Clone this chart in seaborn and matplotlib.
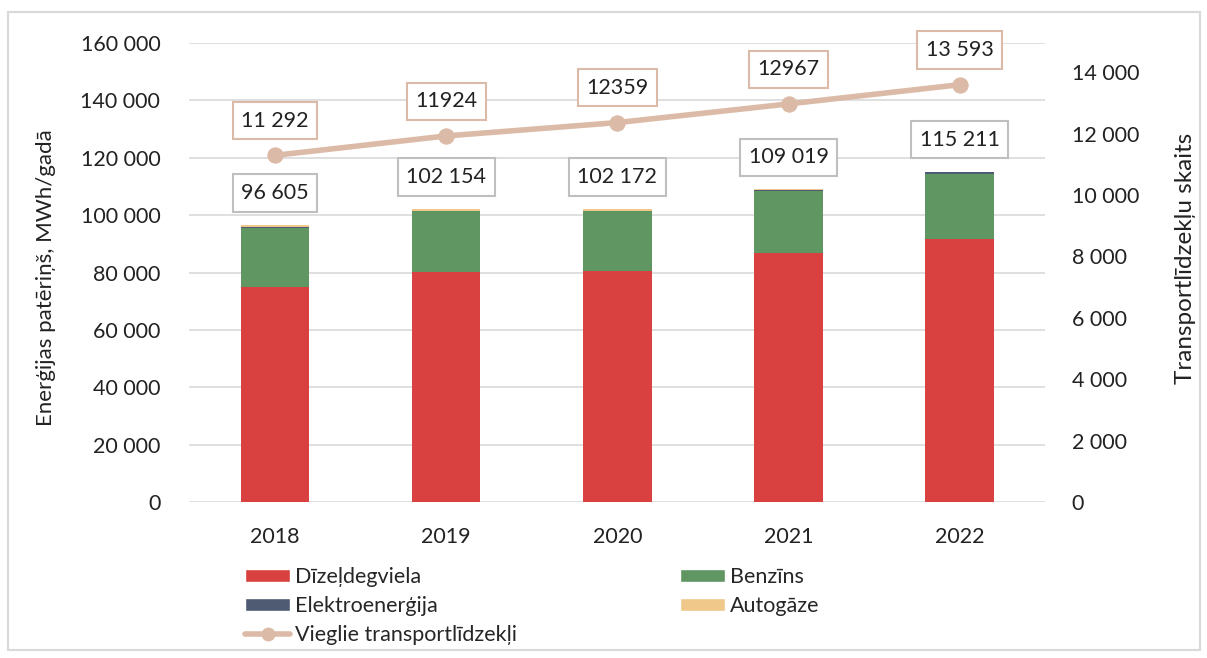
import numpy as np
import pandas as pd
import matplotlib
matplotlib.use("Agg")
import matplotlib.pyplot as plt
import seaborn as sns
from matplotlib.patches import Rectangle, Patch
from matplotlib.lines import Line2D
from matplotlib.ticker import FuncFormatter

# ---- data ----
years = ["2018", "2019", "2020", "2021", "2022"]
dizelis = [75000, 80200, 80500, 86800, 91700]
benzins = [20700, 21300, 21000, 21700, 22800]
elektro = [30, 50, 80, 350, 500]
autogaze = [875, 604, 592, 169, 211]
total_labels = ["96 605", "102 154", "102 172", "109 019", "115 211"]
vehicles = [11292, 11924, 12359, 12967, 13593]
vehicle_labels = ["11 292", "11924", "12359", "12967", "13 593"]

series_names = ["Dīzeļdegviela", "Benzīns", "Elektroenerģija", "Autogāze"]
colors = ["#d94141", "#5f9661", "#4f5b73", "#f0c98a"]
line_color = "#dbbba7"

sns.set_theme(style="white")
plt.rcParams["font.family"] = ["Lato", "DejaVu Sans"]
FS = 15.5

fig = plt.figure(figsize=(12.07, 6.58), dpi=100)
ax = fig.add_axes([0.157, 0.237, 0.709, 0.6976])

df = pd.DataFrame({"year": years, "d": dizelis, "b": benzins, "e": elektro, "a": autogaze})
layers = [df["d"], df["b"], df["e"], df["a"]]
cum = np.cumsum(np.vstack(layers), axis=0)

# draw from top layer down (overlay stacking)
for i in range(3, -1, -1):
    sns.barplot(x=df["year"], y=cum[i], color=colors[i], width=0.4, ax=ax,
                saturation=1, edgecolor="none", linewidth=0, zorder=3)

ax.set_ylim(0, 160000)
ax.set_yticks(np.arange(0, 160001, 20000))
fmt = FuncFormatter(lambda v, p: f"{int(v):,}".replace(",", " "))
ax.yaxis.set_major_formatter(fmt)
ax.grid(axis="y", color="#d9d9d9", linewidth=1.2, zorder=0)
ax.set_axisbelow(True)
for s in ax.spines.values():
    s.set_visible(False)
ax.tick_params(axis="y", length=0, pad=21, labelsize=FS, colors="#222222")
ax.tick_params(axis="x", length=0, pad=18, labelsize=FS, colors="#222222")
ax.set_xlabel("")
ax.set_ylabel("Enerģijas patēriņš, MWh/gadā", fontsize=16, color="#222222")
ax.yaxis.set_label_coords(-0.156, 0.49)
ax.set_xlim(-0.5, len(years) - 0.5)

# bar total labels
totals = cum[3]
for i, (t, lab) in enumerate(zip(totals, total_labels)):
    ax.annotate(lab, (i, t), xytext=(0, 23), textcoords="offset points",
                ha="center", va="center", fontsize=FS, color="#222222",
                bbox=dict(boxstyle="square,pad=0.4", fc="white", ec="#bfbfbf", lw=1.5),
                zorder=6)

# secondary axis
ax2 = ax.twinx()
xpos = np.arange(len(years))
sns.lineplot(x=xpos, y=vehicles, ax=ax2, color=line_color, linewidth=4,
             marker="o", markersize=11, markeredgecolor=line_color, zorder=5)
ax2.set_ylim(0, 14950)
ax2.set_yticks(np.arange(0, 14001, 2000))
ax2.yaxis.set_major_formatter(fmt)
for s in ax2.spines.values():
    s.set_visible(False)
ax2.tick_params(axis="y", length=0, pad=19, labelsize=FS, colors="#222222")
ax2.set_ylabel("Transportlīdzekļu skaits", fontsize=17.5, color="#222222", rotation=90)
ax2.yaxis.set_label_coords(1.152, 0.53)
ax2.set_xlim(-0.5, len(years) - 0.5)
for i, (v, lab) in enumerate(zip(vehicles, vehicle_labels)):
    ax2.annotate(lab, (i, v), xytext=(0, 25), textcoords="offset points",
                 ha="center", va="center", fontsize=FS, color="#222222",
                 bbox=dict(boxstyle="square,pad=0.4", fc="white", ec=line_color, lw=1.5),
                 zorder=6)

# legend
h = [Patch(fc=colors[0]), Patch(fc=colors[2]),
     Line2D([], [], color=line_color, lw=4, marker="o", markersize=9),
     Patch(fc=colors[1]), Patch(fc=colors[3])]
l = [series_names[0], series_names[2], "Vieglie transportlīdzekļi",
     series_names[1], series_names[3]]
leg = fig.legend(h, l, loc="upper left", bbox_to_anchor=(0.203, 0.138),
                 ncol=2, frameon=False, fontsize=FS, handlelength=2.1, handleheight=0.55,
                 handletextpad=0.2, labelspacing=0.42, columnspacing=7.6,
                 borderaxespad=0, borderpad=0, bbox_transform=fig.transFigure)

# outer frame
fig.patches.append(Rectangle((8 / 1207, 8 / 658), 1192 / 1207, 638 / 658,
                             transform=fig.transFigure, fill=False,
                             ec="#d9d9d9", lw=1.5))

fig.savefig("out.png", dpi=100)
